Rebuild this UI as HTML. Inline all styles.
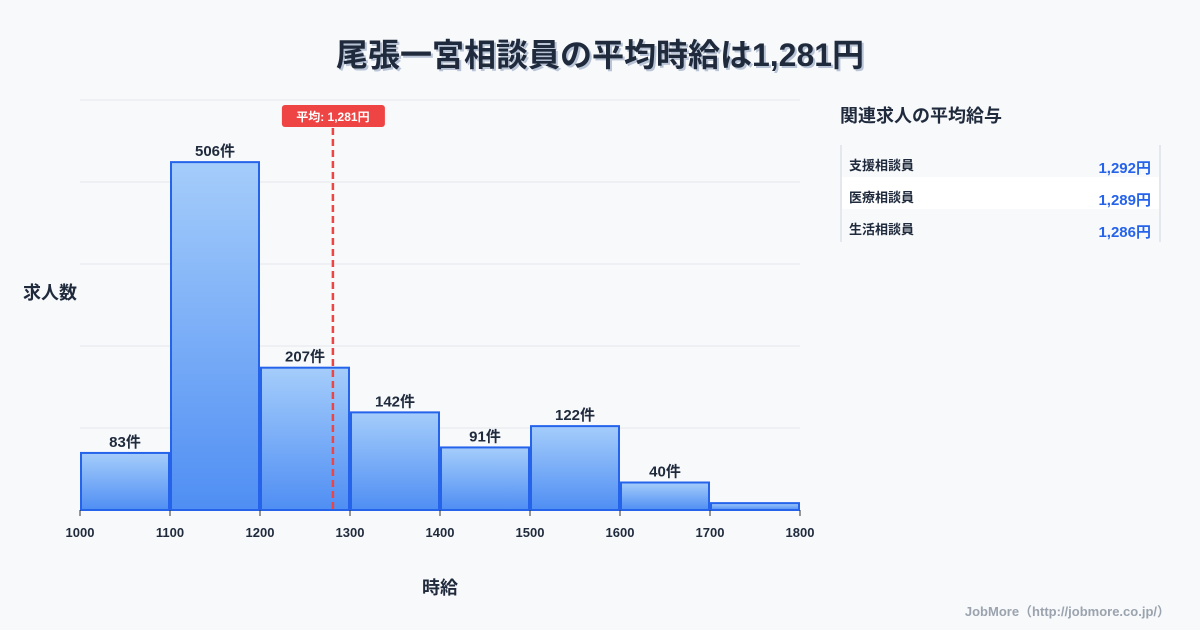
<!DOCTYPE html>
<html><head><meta charset="utf-8"><style>
body{margin:0;width:1200px;height:630px;background:#f8f9fb;font-family:"Liberation Sans","Noto Sans CJK JP",sans-serif;overflow:hidden;position:relative}
svg{position:absolute;left:0;top:0}
</style></head><body>
<svg width="1200" height="630">
<defs><linearGradient id="g" x1="0" y1="0" x2="0" y2="1"><stop offset="0" stop-color="#a5cdfb"/><stop offset="1" stop-color="#4f8ef3"/></linearGradient></defs>
<text x="600" y="66" text-anchor="middle" font-size="32" font-weight="bold" fill="#b8c4d6" transform="translate(2,2)" font-family="Liberation Sans,Noto Sans CJK JP,sans-serif">尾張一宮相談員の平均時給は1,281円</text>
<text x="600" y="66" text-anchor="middle" font-size="32" font-weight="bold" fill="#1f2a3c" font-family="Liberation Sans,Noto Sans CJK JP,sans-serif">尾張一宮相談員の平均時給は1,281円</text>
<g id="grid"></g><g id="bars"></g><g id="xt"></g>
<text x="50" y="299" text-anchor="middle" font-size="18" font-weight="bold" fill="#1f2a3c" font-family="Liberation Sans,Noto Sans CJK JP,sans-serif">求人数</text>
<text x="440" y="594" text-anchor="middle" font-size="18" font-weight="bold" fill="#1f2a3c" font-family="Liberation Sans,Noto Sans CJK JP,sans-serif">時給</text>
<g id="mean"></g>
<text x="840" y="122" font-size="18" font-weight="bold" fill="#1f2a3c" font-family="Liberation Sans,Noto Sans CJK JP,sans-serif">関連求人の平均給与</text>
<line x1="841" y1="145" x2="841" y2="242" stroke="#cfd6e0"/>
<line x1="1160" y1="145" x2="1160" y2="242" stroke="#cfd6e0"/>
<rect x="842" y="177" width="317" height="32" fill="#ffffff"/>
<g id="rel"></g>
<text x="1170" y="616" text-anchor="end" font-size="13" font-weight="bold" fill="#9aa3ae" font-family="Liberation Sans,Noto Sans CJK JP,sans-serif">JobMore（http://jobmore.co.jp/）</text>
</svg>
<script>
const binStarts=[1000,1100,1200,1300,1400,1500,1600,1700];
const counts=[83,506,207,142,91,122,40,10];
const labels=["83件","506件","207件","142件","91件","122件","40件",""];
const xTicks=[1000,1100,1200,1300,1400,1500,1600,1700,1800];
const meanValue=1281;
const relNames=["支援相談員","医療相談員","生活相談員"];
const relValues=["1,292円","1,289円","1,286円"];
const NS="http://www.w3.org/2000/svg";
const X=v=>80+(v-1000)*0.9, Y=v=>510-v*0.6875;
function mk(tag,attrs,parent,txt){const e=document.createElementNS(NS,tag);for(const k in attrs)e.setAttribute(k,attrs[k]);if(txt!==undefined)e.textContent=txt;document.getElementById(parent).appendChild(e);return e;}
for(let i=0;i<6;i++){const e=mk('line',{x1:80,x2:800,y1:100+i*82,y2:100+i*82,stroke:'#e3e7ec'},'grid');

}
binStarts.forEach((b,i)=>{const x=X(b)+1,w=X(b+100)-X(b)-2,y=Y(counts[i]);
const r=mk('rect',{x:x,y:y,width:w,height:510-y,fill:'url(#g)',stroke:'#2563eb','stroke-width':2},'bars');


if(labels[i]){const t=mk('text',{x:x+w/2,y:y-6,'text-anchor':'middle','font-size':15,'font-weight':'bold',fill:'#1f2a3c'},'bars',labels[i]);

}});
xTicks.forEach(v=>{const l=mk('line',{x1:X(v),x2:X(v),y1:510,y2:516,stroke:'#333'},'xt');


const t=mk('text',{x:X(v),y:537,'text-anchor':'middle','font-size':13,'font-weight':'bold',fill:'#1f2a3c'},'xt',v);

});
const mx=X(meanValue);
const ml=mk('line',{x1:mx,x2:mx,y1:128,y2:510,stroke:'#ef4444','stroke-width':2.5,'stroke-dasharray':'7,4'},'mean');


const mb=mk('rect',{x:mx-51,y:105,width:103,height:22,rx:3,fill:'#ef4444'},'mean');


const mt=mk('text',{x:mx,y:121,'text-anchor':'middle','font-size':12,'font-weight':'bold',fill:'#fff'},'mean','平均: 1,281円');


relNames.forEach((n,i)=>{const y=170+i*32;
const a=mk('text',{x:849,y:y,'font-size':13,'font-weight':'bold',fill:'#1f2a3c'},'rel',n);


const b=mk('text',{x:1151,y:y+3,'text-anchor':'end','font-size':15,'font-weight':'bold',fill:'#2563eb'},'rel',relValues[i]);

});
</script>
</body></html>
